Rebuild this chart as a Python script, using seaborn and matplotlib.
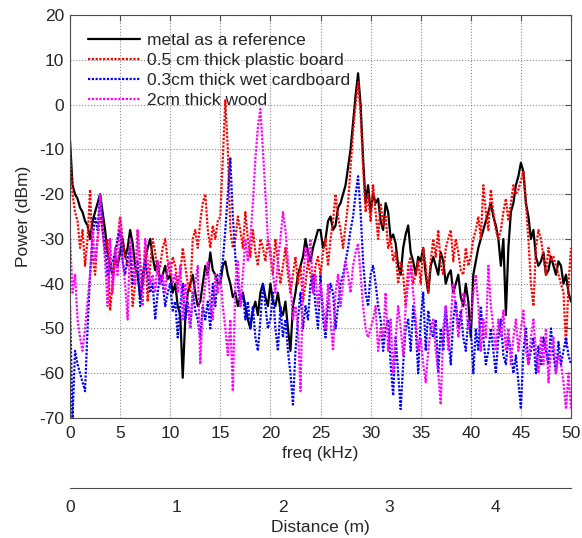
import numpy as np
import pandas as pd
import matplotlib
matplotlib.use('Agg')
import matplotlib.pyplot as plt
import seaborn as sns

# frequency grid (kHz), one sample every 0.25 kHz
freq = np.linspace(0, 50, 201)

# metal as a reference
metal = [
    -8, -18, -20, -21, -23, -24, -26, -27, -30, -26, -24, -22, -20, -24, -28, -33, -36, -38, -34, -36,
    -33, -30, -34, -32, -28, -31, -36, -38, -43, -40, -35, -32, -30, -34, -37, -35, -40, -38, -36, -39,
    -38, -42, -40, -45, -47, -61, -48, -42, -40, -38, -42, -45, -44, -40, -36, -38, -33, -37, -38, -40,
    -40, -36, -35, -38, -40, -43, -42, -45, -43, -42, -45, -48, -50, -46, -44, -47, -42, -40, -43, -45,
    -40, -44, -45, -42, -46, -47, -44, -50, -55, -45, -42, -38, -36, -34, -30, -33, -35, -32, -30, -28,
    -28, -32, -30, -26, -25, -28, -27, -23, -22, -20, -18, -14, -10, -4, 2, 7, 0, -12, -22, -18,
    -24, -20, -22, -21, -26, -28, -22, -24, -30, -29, -31, -36, -38, -32, -29, -27, -33, -35, -38, -34,
    -35, -32, -38, -42, -36, -34, -36, -38, -33, -35, -40, -38, -37, -42, -40, -38, -43, -45, -40, -44,
    -52, -38, -35, -32, -30, -28, -26, -24, -22, -25, -27, -30, -36, -30, -47, -32, -24, -22, -18, -16,
    -13, -15, -22, -25, -30, -28, -34, -36, -35, -33, -38, -37, -34, -36, -38, -35, -36, -40, -38, -42,
    -44,
]

# 0.5 cm thick plastic board
plastic = [
    -10, -20, -24, -26, -32, -28, -36, -30, -19, -34, -38, -30, -25, -28, -33, -30, -46, -40, -35, -30,
    -25, -30, -34, -36, -32, -45, -40, -28, -35, -40, -32, -44, -36, -30, -33, -38, -36, -32, -30, -35,
    -38, -34, -36, -40, -38, -32, -36, -40, -42, -30, -28, -32, -26, -22, -20, -28, -32, -27, -30, -26,
    -25, -12, 1, -10, -28, -32, -30, -25, -28, -32, -24, -30, -34, -28, -33, -36, -30, -32, -35, -30,
    -34, -38, -30, -35, -40, -36, -32, -38, -42, -38, -34, -40, -36, -44, -40, -35, -38, -42, -36, -34,
    -38, -33, -30, -36, -30, -26, -20, -25, -28, -32, -27, -22, -14, -6, 0, 5, -2, -14, -24, -20,
    -26, -18, -24, -30, -22, -27, -25, -32, -30, -35, -33, -40, -35, -38, -45, -36, -34, -40, -38, -35,
    -40, -32, -36, -42, -35, -30, -34, -28, -36, -38, -32, -30, -28, -35, -30, -33, -37, -38, -32, -36,
    -34, -30, -28, -25, -30, -18, -24, -28, -19, -24, -28, -30, -28, -24, -21, -26, -22, -18, -20, -19,
    -17, -15, -22, -30, -40, -45, -32, -28, -30, -34, -38, -32, -35, -34, -36, -38, -40, -42, -54, -40,
    -32,
]

# 0.3cm thick wet cardboard
cardboard = [
    -45, -70, -55, -58, -60, -62, -64, -50, -38, -30, -25, -28, -20, -28, -32, -38, -36, -35, -33, -30,
    -28, -35, -38, -34, -32, -40, -36, -35, -45, -38, -35, -38, -42, -40, -48, -42, -38, -40, -45, -42,
    -40, -46, -44, -52, -45, -40, -48, -44, -50, -42, -46, -48, -52, -45, -48, -44, -50, -40, -45, -38,
    -38, -35, -28, -20, -12, -25, -34, -40, -45, -42, -48, -44, -50, -45, -52, -55, -48, -40, -45, -50,
    -48, -42, -50, -55, -45, -52, -48, -55, -60, -67, -55, -48, -42, -50, -45, -48, -40, -38, -45, -50,
    -38, -48, -52, -45, -40, -42, -50, -45, -40, -38, -35, -32, -28, -25, -20, -16, -24, -35, -42, -45,
    -38, -36, -40, -45, -48, -55, -50, -48, -58, -65, -52, -60, -68, -58, -50, -48, -55, -45, -50, -60,
    -48, -42, -55, -46, -50, -52, -48, -60, -50, -55, -45, -52, -58, -48, -44, -50, -46, -52, -55, -48,
    -50, -60, -50, -55, -45, -52, -58, -55, -50, -55, -60, -52, -48, -56, -58, -52, -55, -60, -56, -62,
    -68, -55, -50, -58, -55, -52, -60, -54, -58, -52, -55, -58, -50, -56, -60, -53, -58, -55, -52, -56,
    -58,
]

# 2cm thick wood
wood = [
    -30, -42, -38, -48, -52, -55, -50, -44, -38, -28, -35, -30, -20, -28, -35, -45, -30, -42, -32, -38,
    -25, -35, -40, -48, -30, -35, -40, -28, -38, -45, -30, -35, -40, -38, -42, -35, -40, -38, -42, -36,
    -35, -40, -38, -42, -36, -48, -40, -45, -50, -42, -40, -36, -58, -45, -40, -35, -45, -48, -38, -42,
    -38, -45, -50, -56, -48, -64, -40, -35, -45, -38, -30, -35, -30, -22, -12, -5, -1, -10, -20, -30,
    -32, -38, -42, -35, -30, -24, -28, -35, -40, -48, -45, -50, -64, -40, -32, -35, -30, -42, -38, -45,
    -40, -45, -50, -40, -48, -55, -42, -38, -45, -40, -35, -38, -42, -36, -33, -31, -38, -45, -50, -52,
    -50, -48, -45, -55, -50, -52, -42, -55, -48, -60, -52, -45, -50, -56, -45, -40, -36, -42, -48, -55,
    -52, -58, -62, -55, -50, -48, -55, -60, -67, -50, -45, -55, -48, -40, -45, -52, -48, -42, -45, -50,
    -48, -42, -38, -45, -55, -48, -52, -36, -45, -50, -55, -48, -52, -46, -55, -50, -58, -52, -48, -55,
    -50, -46, -55, -58, -52, -48, -55, -60, -52, -58, -50, -62, -55, -52, -60, -56, -58, -62, -68, -60,
    -68,
]

labels = ['metal as a reference', '0.5 cm thick plastic board',
          '0.3cm thick wet cardboard', '2cm thick wood']
colors = ['black', 'red', 'blue', 'magenta']

sns.set_style('white')
plt.rcParams['font.family'] = ['Liberation Sans', 'DejaVu Sans']
plt.rcParams['font.size'] = 12.5
plt.rcParams['axes.unicode_minus'] = False

fig = plt.figure(figsize=(5.82, 5.38), dpi=100)
ax = fig.add_axes([0.1203, 0.223, 0.8608, 0.749])

for vals, lab, col in zip([metal, plastic, cardboard, wood], labels, colors):
    if col == 'black':
        sns.lineplot(x=freq, y=vals, ax=ax, color=col, lw=1.6, label=lab)
    else:
        sns.lineplot(x=freq, y=vals, ax=ax, color=col, lw=1.6,
                     linestyle=(0, (1, 0.7)), label=lab)

ax.set_xlim(0, 50)
ax.set_ylim(-70, 20)
ax.set_xticks(np.arange(0, 51, 5))
ax.set_yticks(np.arange(-70, 21, 10))
ax.grid(True, linestyle=':', color='0.55', lw=0.8)
ax.tick_params(axis='x', direction='in', top=True, length=4, color='0.3', pad=6)
ax.tick_params(axis='y', direction='in', right=True, length=4, color='0.3', pad=4)
for s in ax.spines.values():
    s.set_color('0.3')
    s.set_linewidth(0.8)
ax.set_xlabel('freq (kHz)', labelpad=3)
ax.set_ylabel('Power (dBm)', labelpad=6)
ax.legend(loc='upper left', frameon=False, handlelength=3.0, labelspacing=0.28,
          borderaxespad=0.65, handletextpad=0.4)

# second x axis: distance
ax2 = fig.add_axes([0.1203, 0.093, 0.8608, 0.001])
ax2.set_xlim(0, 4.705)
ax2.set_xticks([0, 1, 2, 3, 4])
ax2.set_yticks([])
for side in ['top', 'left', 'right']:
    ax2.spines[side].set_visible(False)
ax2.spines['bottom'].set_color('0.3')
ax2.spines['bottom'].set_linewidth(0.8)
ax2.tick_params(axis='x', direction='in', length=4, color='0.3', pad=9)
ax2.set_xlabel('Distance (m)', labelpad=3)

fig.savefig('out.png', dpi=100)
